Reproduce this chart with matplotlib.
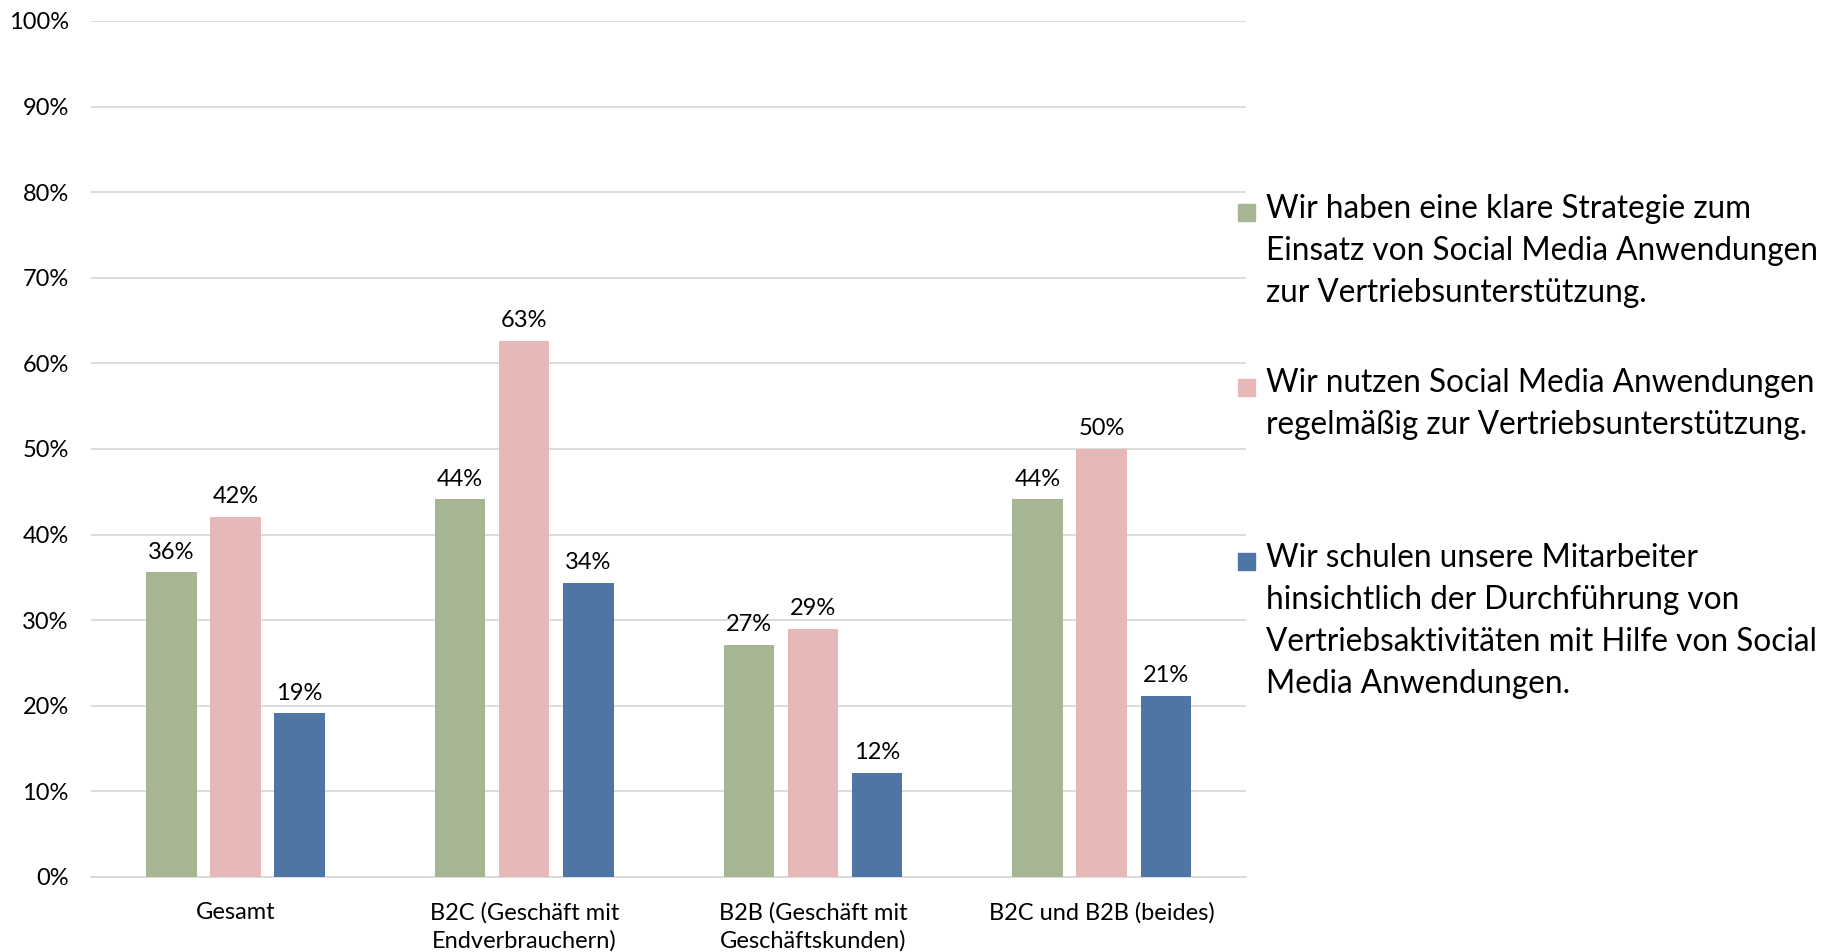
import numpy as np
import matplotlib
matplotlib.use("Agg")
import matplotlib.pyplot as plt
from matplotlib.patches import Rectangle

plt.rcParams['font.family'] = ['Lato', 'DejaVu Sans']

kategorien = ['Gesamt', 'B2C (Geschäft mit\nEndverbrauchern)',
              'B2B (Geschäft mit\nGeschäftskunden)', 'B2C und B2B (beides)']
strategie = [35.6, 44.1, 27.1, 44.1]
nutzung = [42.1, 62.6, 29.0, 50.0]
schulung = [19.1, 34.4, 12.2, 21.2]

serien_namen = [
    'Wir haben eine klare Strategie zum\nEinsatz von Social Media Anwendungen\nzur Vertriebsunterstützung.',
    'Wir nutzen Social Media Anwendungen\nregelmäßig zur Vertriebsunterstützung.',
    'Wir schulen unsere Mitarbeiter\nhinsichtlich der Durchführung von\nVertriebsaktivitäten mit Hilfe von Social\nMedia Anwendungen.',
]
farben = ['#A6B592', '#E6B8B8', '#4F75A5']

fig = plt.figure(figsize=(18.29, 9.52), dpi=100)
ax = fig.add_axes([0.0498, 0.0788, 0.6315, 0.8992])

x = np.arange(len(kategorien))
breite = 0.175
abstand = 0.222
for i, (werte, farbe) in enumerate(zip([strategie, nutzung, schulung], farben)):
    pos = x + (i - 1) * abstand
    bars = ax.bar(pos, werte, width=breite, color=farbe, zorder=3)
    for b, w in zip(bars, werte):
        ax.annotate(f'{round(w):d}%', (b.get_x() + b.get_width() / 2, w),
                    xytext=(0, 7), textcoords='offset points',
                    ha='center', va='bottom', fontsize=17, color='#000000')

ax.set_xlim(-0.5, len(kategorien) - 0.5)
ax.set_ylim(0, 100)
ax.set_yticks(range(0, 101, 10))
ax.set_yticklabels([f'{v}%' for v in range(0, 101, 10)])
ax.set_xticks(x)
ax.set_xticklabels(kategorien, linespacing=1.35)
ax.tick_params(axis='y', length=0, pad=16, labelsize=17, labelcolor='#000000')
ax.tick_params(axis='x', length=0, pad=18, labelsize=17, labelcolor='#000000')
ax.grid(axis='y', color='#D9D9D9', linewidth=1.3, zorder=0)
for s in ['top', 'right', 'left']:
    ax.spines[s].set_visible(False)
ax.spines['bottom'].set_color('#D9D9D9')
ax.spines['bottom'].set_linewidth(1.3)
ax.spines['bottom'].set_zorder(1)

# Legende von Hand: Einträge mit gleichem Abstand der ersten Zeilen
y0 = 0.777
schritt = 0.183
for i, (name, farbe) in enumerate(zip(serien_namen, farben)):
    y = y0 - i * schritt
    fig.patches.append(Rectangle((0.677, y - 0.0095), 0.0093, 0.0178,
                                 transform=fig.transFigure, color=farbe))
    fig.text(0.692, y + 0.019, name, fontsize=22.7, va='top', ha='left',
             linespacing=1.5, color='#000000')

fig.savefig('out.png', dpi=100, facecolor='white')
